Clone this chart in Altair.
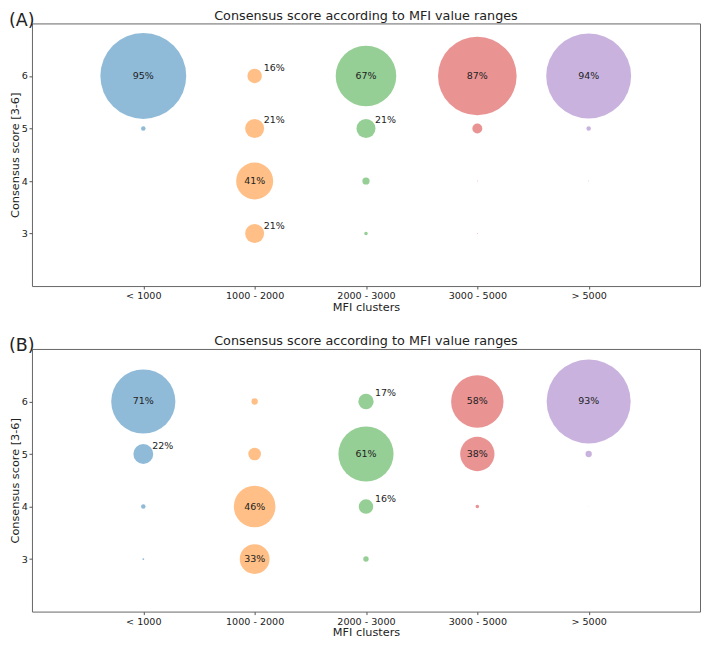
import altair as alt
import pandas as pd

clusters = ["< 1000", "1000 - 2000", "2000 - 3000", "3000 - 5000", "> 5000"]
scores = [6, 5, 4, 3]
colors = ["#1f77b4", "#ff7f0e", "#2ca02c", "#d62728", "#9467bd"]

# percentages per cluster, for scores 6, 5, 4, 3
pct_A = {
    "< 1000": [95, 5, 0, 0],
    "1000 - 2000": [16, 21, 41, 21],
    "2000 - 3000": [67, 21, 8, 4],
    "3000 - 5000": [87, 11, 1, 1],
    "> 5000": [94, 5, 1, 0],
}
pct_B = {
    "< 1000": [71, 22, 5, 2],
    "1000 - 2000": [7, 14, 46, 33],
    "2000 - 3000": [17, 61, 16, 6],
    "3000 - 5000": [58, 38, 4, 0],
    "> 5000": [93, 7, 0.5, 0],
}

TITLE = "Consensus score according to MFI value ranges"
FONT = "DejaVu Sans"
TXT = "#222222"


def make_df(pcts):
    rows = []
    for c in clusters:
        for s, p in zip(scores, pcts[c]):
            if p > 0:
                rows.append({"cluster": c, "score": s, "pct": p})
    return pd.DataFrame(rows)


def panel(pcts, tag):
    df = make_df(pcts)
    base = alt.Chart(df).transform_calculate(
        label="format(datum.pct, '.0f') + '%'"
    ).encode(
        x=alt.X("cluster:N", sort=clusters,
                scale=alt.Scale(type="point", padding=1),
                axis=alt.Axis(title="MFI clusters", labelAngle=0)),
        y=alt.Y("score:Q", scale=alt.Scale(domain=[2, 7], nice=False, zero=False),
                axis=alt.Axis(title="Consensus score [3-6]", values=[3, 4, 5, 6])),
    )
    # diameter grows linearly with the percentage (vega circle: diameter = sqrt(size))
    pts = base.mark_circle(opacity=0.5, strokeWidth=0).encode(
        size=alt.Size("pct:Q", scale=alt.Scale(type="pow", exponent=2,
                                               domain=[0, 100], range=[0, 8190]),
                      legend=None),
        color=alt.Color("cluster:N", sort=clusters,
                        scale=alt.Scale(domain=clusters, range=colors), legend=None),
    )
    big = base.transform_filter("datum.pct >= 30").mark_text(
        align="center", baseline="middle", fontSize=9.5, color=TXT, font=FONT
    ).encode(text="label:N")
    small = base.transform_filter("datum.pct >= 15 && datum.pct < 30").mark_text(
        align="left", baseline="middle", fontSize=9.5, color=TXT, font=FONT, dx=9, dy=-8
    ).encode(text="label:N")
    layer = alt.layer(pts, big, small).properties(
        width=669, height=263,
        title=alt.TitleParams(TITLE, fontSize=12.8, fontWeight="normal", color=TXT,
                              font=FONT, anchor="middle", frame="group", offset=1),
    )
    return alt.vconcat(layer, title=alt.TitleParams(
        tag, anchor="start", fontSize=17.5, fontWeight="normal", color=TXT,
        font=FONT, offset=-20, frame="bounds"))


chart = alt.vconcat(panel(pct_A, "(A)"), panel(pct_B, "(B)"), spacing=21).configure(
    padding=0, font=FONT
).configure_view(
    stroke="#666666", strokeWidth=1
).configure_axis(
    domain=False, grid=False, tickSize=3, tickColor="#555555",
    labelFont=FONT, labelFontSize=9.6, labelColor=TXT, labelPadding=1.5,
    titleFont=FONT, titleFontSize=11.3, titleFontWeight="normal", titleColor=TXT,
    titlePadding=1,
).configure_concat(spacing=0)

chart.save("out.html", embed_options={"renderer": "svg", "actions": False})
